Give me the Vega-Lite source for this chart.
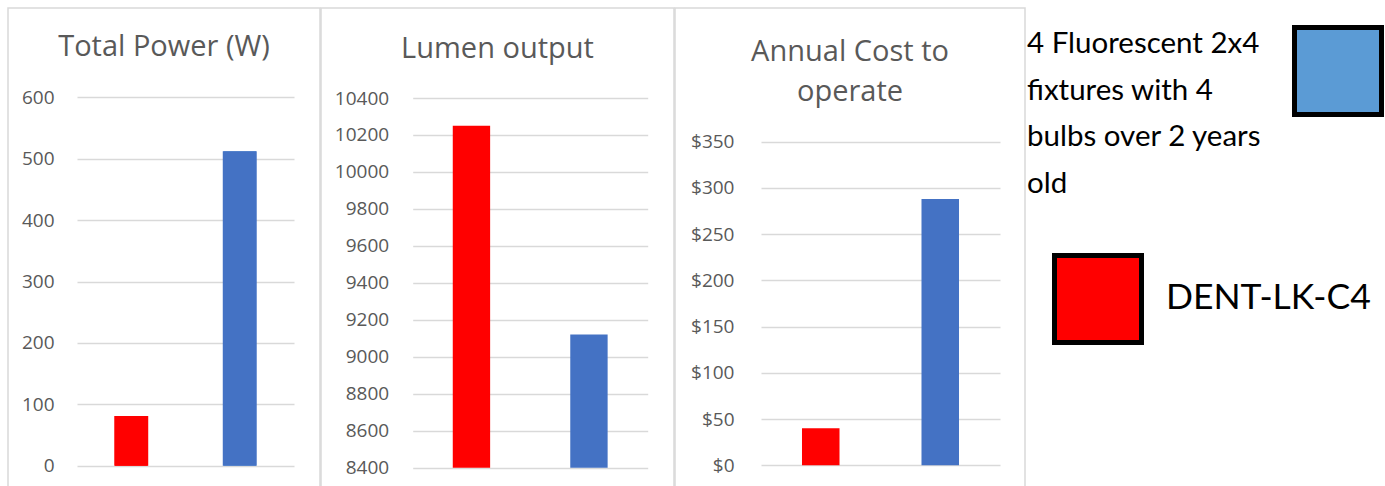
{
  "$schema": "https://vega.github.io/schema/vega-lite/v6.json",
  "padding": {"left": 7, "top": 7, "right": 0, "bottom": 0},
  "autosize": {"type": "pad"},
  "background": "white",
  "config": {
    "font": "Open Sans",
    "view": {"stroke": "#d9d9d9", "strokeWidth": 1.5},
    "axis": {"labelFont": "Open Sans", "labelFontSize": 19, "labelColor": "#595959", "grid": true, "gridColor": "#d9d9d9", "gridWidth": 1.7, "domain": false, "ticks": false, "tickSize": 0, "title": null},
    "title": {"font": "Open Sans", "fontSize": 29, "fontWeight": "normal", "color": "#595959", "anchor": "middle", "frame": "group", "lineHeight": 40},
    "legend": {"title": null, "padding": 0, "symbolType": "square", "labelColor": "black", "labelLimit": 0}
  },
  "datasets": {
    "vals": [
      {"metric": "power", "series": "DENT-LK-C4", "value": 81},
      {"metric": "power", "series": "4 Fluorescent 2x4 fixtures with 4 bulbs over 2 years old", "value": 512},
      {"metric": "lumen", "series": "DENT-LK-C4", "value": 10250},
      {"metric": "lumen", "series": "4 Fluorescent 2x4 fixtures with 4 bulbs over 2 years old", "value": 9120},
      {"metric": "cost", "series": "DENT-LK-C4", "value": 40},
      {"metric": "cost", "series": "4 Fluorescent 2x4 fixtures with 4 bulbs over 2 years old", "value": 288}
    ]
  },
  "spacing": 1,
  "bounds": "flush",
  "resolve": {"scale": {"color": "independent", "fill": "independent", "x": "independent", "y": "independent"}, "legend": {"color": "independent", "fill": "independent"}},
  "hconcat": [
    {
      "width": 312,
      "height": 479,
      "title": {"text": "Total Power (W)", "offset": -54},
      "data": {"name": "vals"},
      "transform": [{"filter": "datum.metric === 'power'"}],
      "encoding": {
        "x": {"field": "series", "type": "nominal", "sort": ["DENT-LK-C4", "4 Fluorescent 2x4 fixtures with 4 bulbs over 2 years old"], "axis": null, "scale": {"range": [69, 286], "paddingInner": 0, "paddingOuter": 0}},
        "y": {"field": "value", "type": "quantitative", "scale": {"domain": [0, 600], "range": [457.7, 89.3], "nice": false}, "axis": {"values": [0, 100, 200, 300, 400, 500, 600], "offset": -69, "labelPadding": 23}}
      },
      "layer": [
        {
          "mark": {"type": "bar", "width": {"band": 0.3}},
          "encoding": {
            "fill": {
              "field": "series", "type": "nominal",
              "scale": {"domain": ["DENT-LK-C4", "4 Fluorescent 2x4 fixtures with 4 bulbs over 2 years old"], "range": ["#FF0000", "#5B9BD5"]},
              "legend": {
                "values": ["4 Fluorescent 2x4 fixtures with 4 bulbs over 2 years old"],
                "orient": "none", "legendX": 1284, "legendY": 17,
                "symbolSize": 7569, "symbolStrokeWidth": 5, "symbolStrokeColor": "black",
                "labelFont": "Lato", "labelFontSize": 29.5, "labelAlign": "left", "labelBaseline": "alphabetic", "labelOffset": -357,
                "labelExpr": "['4 Fluorescent 2x4', 'fixtures with 4', 'bulbs over 2 years', 'old']",
                "encode": {
                  "symbols": {"update": {"stroke": {"value": "black"}, "strokeWidth": {"value": 5}, "opacity": {"value": 1}}},
                  "labels": {"update": {"lineHeight": {"value": 46.5}, "dy": {"value": -18}}}
                }
              }
            }
          }
        },
        {
          "mark": {"type": "bar", "width": {"band": 0.313}},
          "encoding": {
            "color": {
              "field": "series", "type": "nominal",
              "scale": {"domain": ["DENT-LK-C4", "4 Fluorescent 2x4 fixtures with 4 bulbs over 2 years old"], "range": ["#FF0000", "#4472C4"]},
              "legend": null
            }
          }
        }
      ]
    },
    {
      "width": 353,
      "height": 479,
      "title": {"text": "Lumen output", "offset": -56.4},
      "data": {"name": "vals"},
      "transform": [{"filter": "datum.metric === 'lumen'"}],
      "mark": {"type": "bar", "width": {"band": 0.318}},
      "encoding": {
        "x": {"field": "series", "type": "nominal", "sort": ["DENT-LK-C4", "4 Fluorescent 2x4 fixtures with 4 bulbs over 2 years old"], "axis": null, "scale": {"range": [91.7, 326.7], "paddingInner": 0, "paddingOuter": 0}},
        "y": {"field": "value", "type": "quantitative", "scale": {"domain": [8400, 10400], "range": [459.7, 90], "nice": false, "zero": false}, "axis": {"values": [8400, 8600, 8800, 9000, 9200, 9400, 9600, 9800, 10000, 10200, 10400], "format": "d", "offset": -91.7, "labelPadding": 24}},
        "y2": {"datum": 8400},
        "color": {
          "field": "series", "type": "nominal",
          "scale": {"domain": ["DENT-LK-C4", "4 Fluorescent 2x4 fixtures with 4 bulbs over 2 years old"], "range": ["#FF0000", "#4472C4"]},
          "legend": {
            "values": ["DENT-LK-C4"],
            "orient": "none", "legendX": 731, "legendY": 245,
            "symbolSize": 7569, "symbolStrokeWidth": 5, "symbolStrokeColor": "black",
            "labelFont": "Lato", "labelFontSize": 35.5, "labelAlign": "left", "labelBaseline": "alphabetic", "labelOffset": 22,
            "encode": {
              "symbols": {"update": {"stroke": {"value": "black"}, "strokeWidth": {"value": 5}, "opacity": {"value": 1}}},
              "labels": {"update": {"dy": {"value": 10}}}
            }
          }
        }
      }
    },
    {
      "width": 350,
      "height": 479,
      "title": {"text": ["Annual Cost to", "operate"], "offset": -99},
      "data": {"name": "vals"},
      "transform": [{"filter": "datum.metric === 'cost'"}],
      "mark": {"type": "bar", "width": {"band": 0.314}},
      "encoding": {
        "x": {"field": "series", "type": "nominal", "sort": ["DENT-LK-C4", "4 Fluorescent 2x4 fixtures with 4 bulbs over 2 years old"], "axis": null, "scale": {"range": [86, 325], "paddingInner": 0, "paddingOuter": 0}},
        "y": {"field": "value", "type": "quantitative", "scale": {"domain": [0, 350], "range": [457.3, 133.7], "nice": false}, "axis": {"values": [0, 50, 100, 150, 200, 250, 300, 350], "format": "$,.0f", "offset": -86, "labelPadding": 27}},
        "color": {
          "field": "series", "type": "nominal",
          "scale": {"domain": ["DENT-LK-C4", "4 Fluorescent 2x4 fixtures with 4 bulbs over 2 years old"], "range": ["#FF0000", "#4472C4"]},
          "legend": null
        }
      }
    }
  ]
}
